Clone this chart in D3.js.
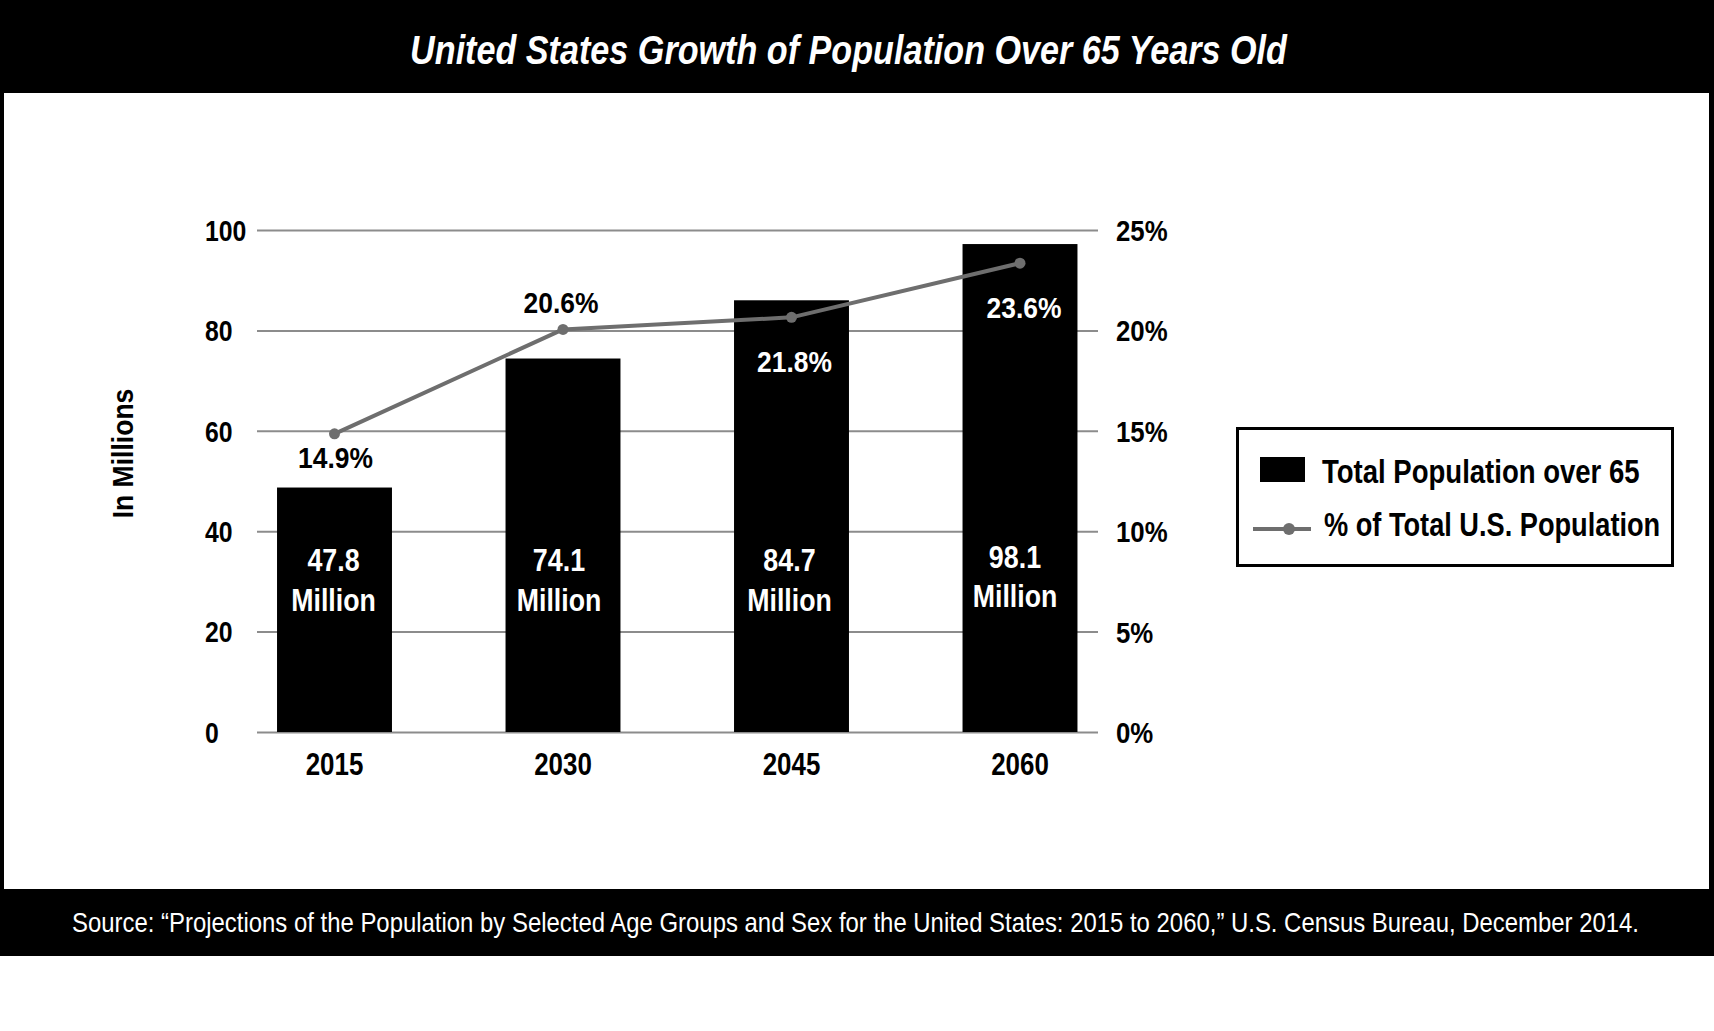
<!DOCTYPE html>
<html><head><meta charset="utf-8">
<script src="https://cdn.jsdelivr.net/npm/d3@7"></script>
<style>
body{margin:0;background:#fff;}
svg{display:block;}
text{font-family:"Liberation Sans Narrow","Arial Narrow","Liberation Sans",Arial,sans-serif;}
</style>
</head><body>
<svg id="chart" width="1714" height="1031"></svg>
<script>
// ---- data ----
const years = ["2015", "2030", "2045", "2060"];
// bar heights as drawn in the picture (millions)
const populationMillions = [48.7, 74.4, 86.0, 97.2];
// bar value labels as printed
const populationLabels = ["47.8", "74.1", "84.7", "98.1"];
// line points as drawn (percent of total US population)
const percentOfTotal = [14.85, 20.05, 20.65, 23.35];
// line labels as printed
const percentLabels = ["14.9%", "20.6%", "21.8%", "23.6%"];
const leftTicks = [0, 20, 40, 60, 80, 100];
const rightTicks = [0, 5, 10, 15, 20, 25];
const titleText = "United States Growth of Population Over 65 Years Old";
const yAxisTitle = "In Millions";
const legendLabels = ["Total Population over 65", "% of Total U.S. Population"];
const sourceText = "Source: \u201CProjections of the Population by Selected Age Groups and Sex for the United States: 2015 to 2060,\u201D U.S. Census Bureau, December 2014.";

// ---- drawing ----
const W = 1714, H = 1031;
const svg = d3.select("#chart");
const lineGray = "#6e6e6e";
const gridGray = "#8c8c8c";
const FONT = '"Liberation Sans Narrow","Arial Narrow","Liberation Sans",Arial,sans-serif';

// condense text horizontally around its anchor point (narrow face look)
function squeeze(sel, f) {
  sel.each(function (d, i) {
    const k = Array.isArray(f) ? f[i] : f;
    const t = d3.select(this);
    const ax = +t.attr("x") || 0, ay = +t.attr("y") || 0;
    t.attr("transform", `translate(${ax},${ay}) scale(${k},1) translate(${-ax},${-ay})`);
  });
}
function fitWidth(sel, target) {
  sel.each(function () {
    const w = this.getComputedTextLength();
    squeeze(d3.select(this), target / w);
  });
}

// frame
svg.append("rect").attr("x", 0).attr("y", 0).attr("width", W).attr("height", H).attr("fill", "#fff");
svg.append("rect").attr("x", 0).attr("y", 0).attr("width", W).attr("height", 93).attr("fill", "#000");
svg.append("rect").attr("x", 0).attr("y", 93).attr("width", 4).attr("height", 796).attr("fill", "#000");
svg.append("rect").attr("x", 1709).attr("y", 93).attr("width", 5).attr("height", 796).attr("fill", "#000");
svg.append("rect").attr("x", 0).attr("y", 889).attr("width", W).attr("height", 67).attr("fill", "#000");

svg.append("text").attr("x", 848.5).attr("y", 64).attr("text-anchor", "middle")
  .attr("fill", "#fff").attr("font-weight", "bold").attr("font-style", "italic")
  .attr("font-size", 41.5).text(titleText).call(fitWidth, 877);

svg.append("text").attr("x", 855.5).attr("y", 932).attr("text-anchor", "middle")
  .attr("fill", "#fff").attr("font-size", 27).text(sourceText).call(fitWidth, 1567);

// scales
const y = d3.scaleLinear().domain([0, 100]).range([732, 230]);
const yR = d3.scaleLinear().domain([0, 25]).range([732, 230]);
const x = d3.scaleBand().domain(years).range([220.25, 1134.25]).paddingInner(0.497).paddingOuter(0.2485);
const gridX0 = 257, gridX1 = 1098;

// gridlines + left axis
const gLeft = svg.append("g").attr("transform", `translate(${gridX0},0)`)
  .call(d3.axisLeft(y).tickValues(leftTicks).tickSize(-(gridX1 - gridX0)).tickPadding(0));
gLeft.select(".domain").remove();
gLeft.selectAll(".tick line").attr("stroke", gridGray).attr("stroke-width", 2);
gLeft.selectAll(".tick text").attr("text-anchor", "start").attr("x", 205 - gridX0).attr("dy", "0.35em")
  .attr("font-size", 29.5).attr("font-weight", "bold").attr("fill", "#000")
  .style("font-family", FONT).call(squeeze, 0.84);

// right axis labels
const gRight = svg.append("g").attr("transform", `translate(1116,0)`)
  .call(d3.axisRight(yR).tickValues(rightTicks).tickSize(0).tickPadding(0).tickFormat(d => d + "%"));
gRight.select(".domain").remove();
gRight.selectAll(".tick text").attr("text-anchor", "start").attr("x", 0).attr("dy", "0.35em")
  .attr("font-size", 30).attr("font-weight", "bold").attr("fill", "#000")
  .style("font-family", FONT).call(squeeze, 0.86);

// x axis labels
const gBottom = svg.append("g").attr("transform", `translate(0,775)`)
  .call(d3.axisBottom(x).tickSize(0).tickPadding(0));
gBottom.select(".domain").remove();
gBottom.selectAll(".tick text").attr("x", 0).attr("y", 0).attr("dy", 0)
  .attr("font-size", 30.5).attr("font-weight", "bold").attr("fill", "#000")
  .style("font-family", FONT).call(squeeze, 0.85);

// y axis title
svg.append("text").attr("transform", "translate(133,453.5) rotate(-90) scale(0.9,1)").attr("text-anchor", "middle")
  .attr("font-size", 29.5).attr("font-weight", "bold").attr("fill", "#000").text(yAxisTitle);

// bars
const bars = years.map((yr, i) => ({ yr, v: populationMillions[i], lab: populationLabels[i], p: percentOfTotal[i], pl: percentLabels[i] }));
svg.append("g").selectAll("rect").data(bars).join("rect")
  .attr("x", d => x(d.yr)).attr("width", x.bandwidth())
  .attr("y", d => y(d.v)).attr("height", d => y(0) - y(d.v)).attr("fill", "#000");

// bar value labels
const cx = d => x(d.yr) + x.bandwidth() / 2;
const labDx = [-1, -4, -2, -5];
const gBarLab = svg.append("g");
gBarLab.selectAll("text.num").data(bars).join("text").attr("class", "num")
  .attr("text-anchor", "middle").attr("fill", "#fff").attr("font-weight", "bold").attr("font-size", 30.5)
  .attr("x", (d, i) => cx(d) + labDx[i]).attr("y", (d, i) => i === 3 ? 568 : 571)
  .text(d => d.lab).call(squeeze, 0.88);
gBarLab.selectAll("text.mil").data(bars).join("text").attr("class", "mil")
  .attr("text-anchor", "middle").attr("fill", "#fff").attr("font-weight", "bold").attr("font-size", 30.5)
  .attr("x", (d, i) => cx(d) + labDx[i]).attr("y", (d, i) => i === 3 ? 607 : 611)
  .text("Million").call(squeeze, 0.875);

// line
const line = d3.line().x(d => cx(d)).y(d => yR(d.p));
svg.append("path").datum(bars).attr("d", line).attr("fill", "none")
  .attr("stroke", lineGray).attr("stroke-width", 4).attr("stroke-linejoin", "round");
svg.append("g").selectAll("circle").data(bars).join("circle")
  .attr("cx", d => cx(d)).attr("cy", d => yR(d.p)).attr("r", 5.5).attr("fill", lineGray);

// percent labels
const pctPos = [{ dy: 34, dx: 1, c: "#000" }, { dy: -16, dx: -2, c: "#000" }, { dy: 55, dx: 3, c: "#fff" }, { dy: 55, dx: 4, c: "#fff" }];
svg.append("g").selectAll("text").data(bars).join("text")
  .attr("text-anchor", "middle").attr("font-weight", "bold").attr("font-size", 30)
  .attr("x", (d, i) => cx(d) + pctPos[i].dx)
  .attr("y", (d, i) => yR(d.p) + pctPos[i].dy)
  .attr("fill", (d, i) => pctPos[i].c).text(d => d.pl).call(squeeze, 0.88);

// legend
const lg = svg.append("g");
lg.append("rect").attr("x", 1237.5).attr("y", 428.5).attr("width", 435).attr("height", 137)
  .attr("fill", "#fff").attr("stroke", "#000").attr("stroke-width", 3);
lg.append("rect").attr("x", 1260).attr("y", 457).attr("width", 45).attr("height", 25).attr("fill", "#000");
lg.append("line").attr("x1", 1253).attr("x2", 1311).attr("y1", 529).attr("y2", 529)
  .attr("stroke", lineGray).attr("stroke-width", 4);
lg.append("circle").attr("cx", 1289).attr("cy", 529).attr("r", 6).attr("fill", lineGray);
lg.selectAll("text.lt").data(legendLabels).join("text").attr("class", "lt")
  .attr("x", (d, i) => i === 0 ? 1322 : 1324).attr("y", (d, i) => i === 0 ? 483 : 536)
  .attr("font-size", 34).attr("font-weight", "bold").attr("fill", "#000").text(d => d)
  .call(squeeze, [0.81, 0.8]);
</script>
</body></html>
